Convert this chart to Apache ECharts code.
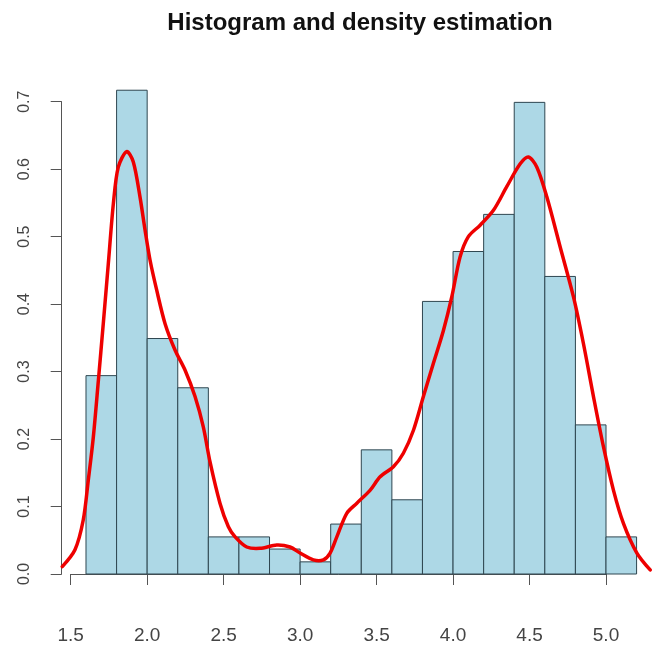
<!DOCTYPE html>
<html>
<head>
<meta charset="utf-8">
<script src="https://cdn.jsdelivr.net/npm/echarts@6/dist/echarts.min.js"></script>
<style>html,body{margin:0;padding:0;background:#fff;}#c{width:652px;height:646px;}</style>
</head>
<body>
<div id="c"></div>
<script>
var binStarts = [1.6,1.8,2.0,2.2,2.4,2.6,2.8,3.0,3.2,3.4,3.6,3.8,4.0,4.2,4.4,4.6,4.8,5.0];
var binWidth = 0.2;
var binDensity = [0.294,0.717,0.349,0.276,0.055,0.055,0.037,0.018,0.074,0.184,0.110,0.404,0.478,0.533,0.699,0.441,0.221,0.055];
var densX = [1.445,1.528,1.582,1.615,1.648,1.681,1.713,1.746,1.779,1.811,1.866,1.909,1.953,1.986,2.019,2.062,2.117,2.182,2.248,2.313,2.367,2.411,2.476,2.531,2.575,2.651,2.738,2.847,2.934,3.000,3.087,3.152,3.196,3.240,3.305,3.371,3.457,3.523,3.610,3.675,3.741,3.806,3.871,3.937,3.992,4.046,4.100,4.177,4.264,4.351,4.439,4.493,4.548,4.613,4.700,4.787,4.852,4.918,4.983,5.049,5.114,5.202,5.289];
var densY = [0.011,0.036,0.080,0.139,0.203,0.287,0.371,0.460,0.549,0.603,0.626,0.611,0.559,0.510,0.465,0.421,0.371,0.332,0.302,0.263,0.218,0.166,0.105,0.070,0.055,0.040,0.038,0.043,0.040,0.031,0.021,0.021,0.031,0.055,0.090,0.105,0.124,0.144,0.159,0.179,0.213,0.263,0.312,0.361,0.411,0.470,0.500,0.517,0.539,0.574,0.608,0.618,0.603,0.559,0.485,0.411,0.342,0.263,0.189,0.124,0.075,0.031,0.006];
var xTicks = [1.5, 5.0, 0.5];
var yTicks = [0, 0.7, 0.1];
var titleText = 'Histogram and density estimation';

var histData = binStarts.map(function (s, i) { return [s, s + binWidth, binDensity[i]]; });
var lineData = densX.map(function (x, i) { return [x, densY[i]]; });

var chart = echarts.init(document.getElementById('c'), null, {renderer: 'canvas'});
chart.setOption({
  backgroundColor: '#ffffff',
  animation: false,
  title: {
    text: titleText,
    left: 355, textAlign: 'center',
    top: 6,
    textStyle: {fontFamily: 'Liberation Sans, Arial, sans-serif', fontWeight: 'bold', fontSize: 24, color: '#111'}
  },
  grid: {left: 70.7, right: 46, top: 101.7, bottom: 72, containLabel: false},
  xAxis: {
    type: 'value', min: xTicks[0], max: xTicks[1], interval: xTicks[2],
    offset: 22,
    splitLine: {show: false},
    axisLine: {show: true, lineStyle: {color: '#555', width: 1}},
    axisTick: {show: true, length: 11, lineStyle: {color: '#555'}},
    axisLabel: {margin: 30, fontSize: 19, color: '#444', fontFamily: 'Liberation Sans, Arial, sans-serif',
      formatter: function (v) { return v.toFixed(1); }}
  },
  yAxis: {
    type: 'value', min: yTicks[0], max: yTicks[1], interval: yTicks[2],
    offset: 9,
    splitLine: {show: false},
    axisLine: {show: true, lineStyle: {color: '#555', width: 1}},
    axisTick: {show: true, length: 11, lineStyle: {color: '#555'}},
    axisLabel: {margin: 29, rotate: 90, fontSize: 16, color: '#444', fontFamily: 'Liberation Sans, Arial, sans-serif',
      formatter: function (v) { return v.toFixed(1); }}
  },
  series: [
    {
      type: 'custom',
      clip: false,
      data: histData,
      renderItem: function (params, api) {
        var p0 = api.coord([api.value(0), api.value(2)]);
        var p1 = api.coord([api.value(1), 0]);
        return {
          type: 'rect',
          shape: {x: p0[0], y: p0[1], width: p1[0] - p0[0], height: p1[1] - p0[1]},
          style: {fill: '#ADD8E6', stroke: '#2e4650', lineWidth: 1}
        };
      },
      z: 1
    },
    {
      type: 'custom',
      clip: false,
      data: [0],
      renderItem: function (params, api) {
        var pts = lineData.map(function (d) { return api.coord(d); });
        return {
          type: 'polyline',
          shape: {points: pts, smooth: 0.3},
          style: {fill: null, stroke: '#ee0000', lineWidth: 3.5, lineJoin: 'round', lineCap: 'round'}
        };
      },
      z: 3
    }
  ]
});
</script>
</body>
</html>
